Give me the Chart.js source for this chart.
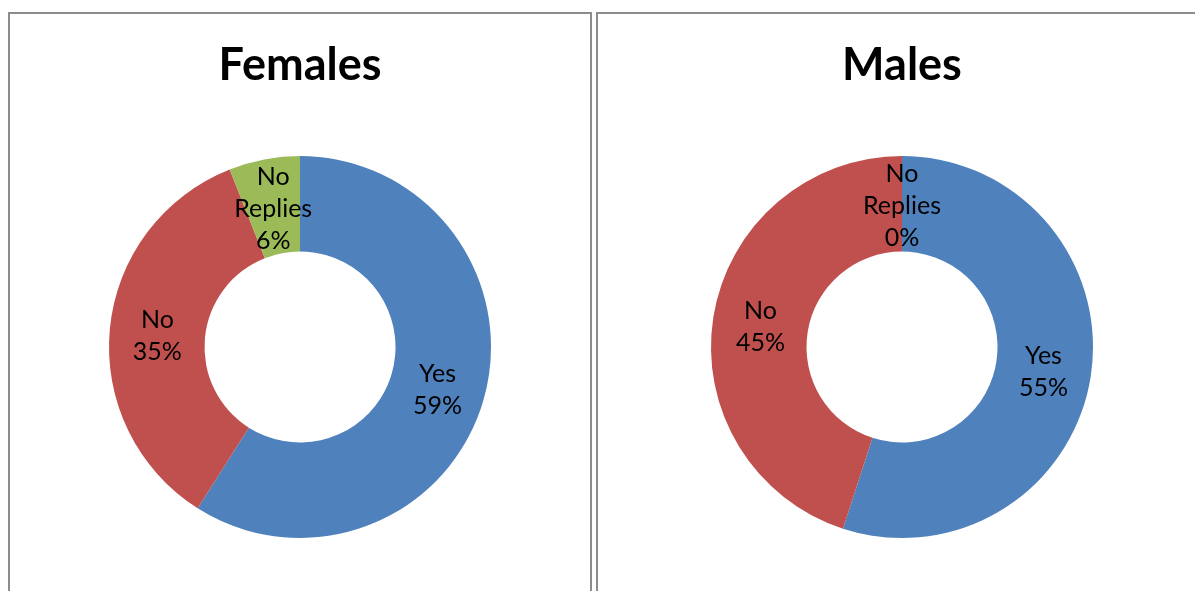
<!DOCTYPE html>
<html>
<head>
<meta charset="utf-8">
<script src="https://cdn.jsdelivr.net/npm/chart.js@4.4.1/dist/chart.umd.min.js"></script>
<style>
  html, body { margin: 0; padding: 0; background: #fff; overflow: hidden; width: 1195px; height: 591px; }
  .panel { position: absolute; top: 12px; height: 640px; border: 2px solid #8c8c8c; box-sizing: border-box; }
  #p1 { left: 8px; width: 584px; }
  #p2 { left: 596px; width: 640px; }
  canvas { position: absolute; }
  #c1 { left: 10px; top: 14px; }
  #c2 { left: 598px; top: 14px; }
</style>
</head>
<body>
<div class="panel" id="p1"></div>
<div class="panel" id="p2"></div>
<canvas id="c1" width="580" height="524"></canvas>
<canvas id="c2" width="608" height="524"></canvas>
<script>
const categories = ["Yes", "No", "No Replies"];
const categoryLines = [["Yes"], ["No"], ["No", "Replies"]];
const femalesValues = [59, 35, 6];
const malesValues = [55, 45, 0];
const chartTitles = ["Females", "Males"];
const sliceColors = ["#4F81BD", "#C0504D", "#9BBB59"];

const labelPlugin = {
  id: "sliceLabels",
  afterDatasetsDraw(chart) {
    const ctx = chart.ctx;
    const meta = chart.getDatasetMeta(0);
    const data = chart.data.datasets[0].data;
    const total = data.reduce((a, b) => a + b, 0);
    ctx.save();
    ctx.font = "25px Lato";
    ctx.fillStyle = "#000";
    ctx.textAlign = "center";
    ctx.textBaseline = "middle";
    const lh = 32;
    meta.data.forEach((arc, i) => {
      const p = arc.getCenterPoint();
      const lines = categoryLines[i].concat([Math.round(data[i] / total * 100) + "%"]);
      const y0 = p.y + 2.5 - (lines.length - 1) * lh / 2;
      lines.forEach((t, k) => ctx.fillText(t, p.x, y0 + k * lh));
    });
    ctx.restore();
  }
};

function makeChart(id, title, values) {
  return new Chart(document.getElementById(id), {
    type: "doughnut",
    data: {
      labels: categories,
      datasets: [{ data: values, backgroundColor: sliceColors, borderWidth: 0 }]
    },
    options: {
      responsive: false,
      animation: false,
      cutout: "50%",
      events: [],
      layout: { padding: 0 },
      plugins: {
        legend: { display: false },
        tooltip: { enabled: false },
        title: {
          display: true,
          text: title,
          color: "#000",
          font: { family: "Lato", size: 45, weight: "bold", lineHeight: 1.2 },
          padding: { top: 24.5, bottom: 63.5 }
        }
      }
    },
    plugins: [labelPlugin]
  });
}

makeChart("c1", chartTitles[0], femalesValues);
makeChart("c2", chartTitles[1], malesValues);
</script>
</body>
</html>
